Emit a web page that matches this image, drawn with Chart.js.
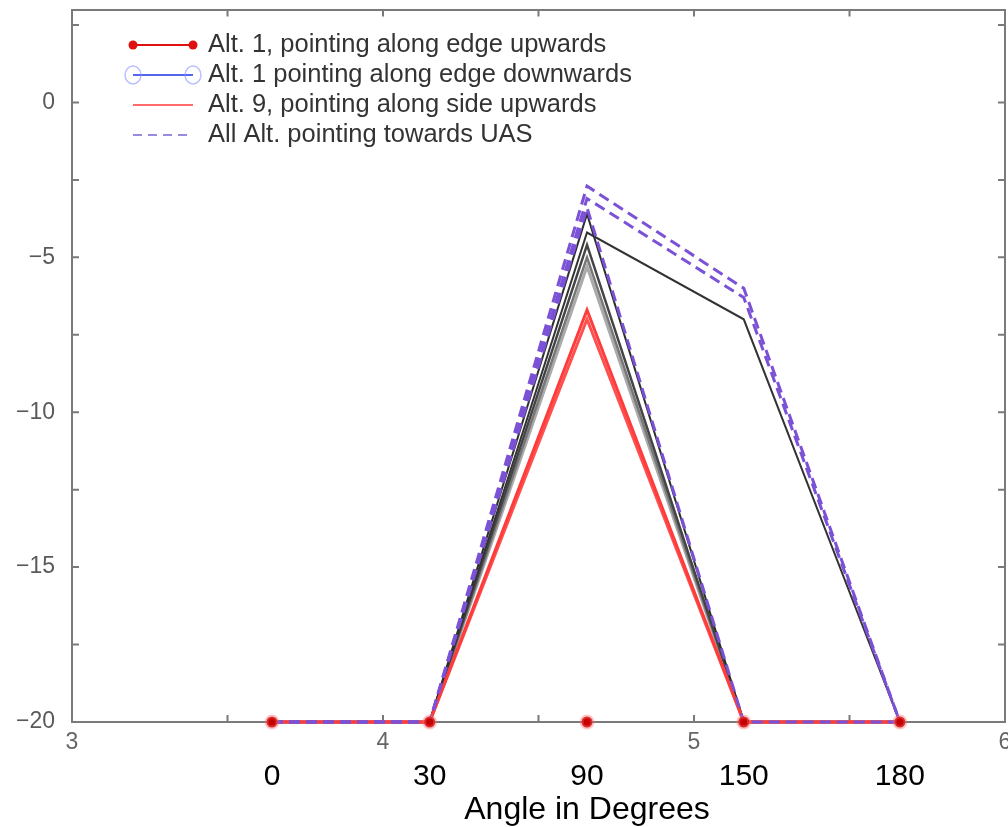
<!DOCTYPE html>
<html>
<head>
<meta charset="utf-8">
<script src="https://cdn.jsdelivr.net/npm/chart.js@4.4.1/dist/chart.umd.min.js"></script>
<style>
  html, body { margin: 0; padding: 0; background: #fff; overflow: hidden; }
  #wrap { position: relative; width: 1016px; height: 827px; }
</style>
</head>
<body>
<div id="wrap"><canvas id="chart"></canvas></div>
<script>
// positions of the five measured angles on the underlying 3..6 axis
const xPos = [3.643, 4.15, 4.656, 5.16, 5.662];
const angleLabels = ["0", "30", "90", "150", "180"];
const xTicks = [3, 3.5, 4, 4.5, 5, 5.5, 6];
const yTicks = [-20, -17.5, -15, -12.5, -10, -7.5, -5, -2.5, 0, 2.5];

// series values (dB) per angle
const alt1Up = [-20, -20, -20, -20, -20];
const alt1Down = [-20, -20, -20, -20, -20];
const alt9Side = [-20, -20, -6.7, -20, -20];
const alt9SideB = [-20, -20, -7.0, -20, -20];
const towardsUasA = [-20, -20, -2.7, -6.0, -20];
const towardsUasB = [-20, -20, -3.1, -6.3, -20];
const towardsUasC = [-20, -20, -3.4, -20, -20];
const otherAltA = [-20, -20, -3.6, -20, -20];
const otherAltB = [-20, -20, -4.2, -7.0, -20];
const otherAltC = [-20, -20, -4.6, -20, -20];
const otherAltD = [-20, -20, -5.0, -20, -20];
const otherAltE = [-20, -20, -5.3, -20, -20];

const FONT = "'Liberation Sans', Arial, sans-serif";
const AXIS_GREY = "#7a7a7a";
const PURPLE = "#7b52d6";

const pts = ys => ys.map((y, i) => ({ x: xPos[i], y }));

function lineSet(label, ys, color, width, dash) {
  return {
    label, data: pts(ys), borderColor: color, borderWidth: width,
    borderDash: dash || [], pointRadius: 0, tension: 0, clip: false
  };
}

const datasets = [
  {
    label: "Alt. 1, pointing along edge upwards", data: pts(alt1Up),
    showLine: false, pointRadius: 5.5, pointBackgroundColor: "#c40000",
    pointBorderColor: "rgba(255,110,110,0.4)", pointBorderWidth: 4, clip: false,
    legendStyle: { rank: 0, color: "#e01010", width: 2, marker: "dot" }
  },
  {
    label: "Alt. 1 pointing along edge downwards", data: pts(alt1Down),
    showLine: false, pointRadius: 0, clip: false,
    legendStyle: { rank: 1, color: "#5566ee", width: 2, marker: "ring", ring: "rgba(130,140,255,0.55)" }
  },
  Object.assign(lineSet("All Alt. pointing towards UAS", towardsUasA, PURPLE, 3, [11, 6]),
    { legendStyle: { rank: 3, color: "#9b8ae0", width: 2, dash: [9, 6] } }),
  lineSet("towards UAS b", towardsUasB, PURPLE, 3, [11, 6]),
  lineSet("towards UAS c", towardsUasC, PURPLE, 3, [11, 6]),
  Object.assign(lineSet("Alt. 9, pointing along side upwards", alt9Side, "#ff3c3c", 3),
    { legendStyle: { rank: 2, color: "#ff6a6a", width: 2 } }),
  lineSet("side b", alt9SideB, "#ff5050", 3),
  lineSet("other a", otherAltA, "#2e2e2e", 2),
  lineSet("other b", otherAltB, "#333333", 2),
  lineSet("other c", otherAltC, "#444444", 2.5),
  lineSet("other d", otherAltD, "#777777", 2.5),
  lineSet("other e", otherAltE, "#aaaaaa", 3)
];

const innerTicks = {
  id: "innerTicks",
  beforeDatasetsDraw(chart, args, opts) {
    const { ctx, chartArea: a, scales } = chart;
    ctx.save();
    ctx.strokeStyle = opts.color;
    ctx.lineWidth = opts.width;
    ctx.beginPath();
    scales.x.ticks.forEach(t => {
      const px = scales.x.getPixelForValue(t.value);
      ctx.moveTo(px, a.bottom); ctx.lineTo(px, a.bottom - opts.length);
      ctx.moveTo(px, a.top); ctx.lineTo(px, a.top + opts.length);
    });
    scales.y.ticks.forEach(t => {
      const py = scales.y.getPixelForValue(t.value);
      ctx.moveTo(a.left, py); ctx.lineTo(a.left + opts.length, py);
      ctx.moveTo(a.right, py); ctx.lineTo(a.right - opts.length, py);
    });
    ctx.stroke();
    ctx.restore();
  }
};

const cornerLegend = {
  id: "cornerLegend",
  afterDraw(chart, args, opts) {
    const ctx = chart.ctx;
    const items = chart.data.datasets.filter(d => d.legendStyle)
      .sort((a, b) => a.legendStyle.rank - b.legendStyle.rank);
    ctx.save();
    ctx.font = opts.font;
    ctx.textBaseline = "middle";
    items.forEach((d, i) => {
      const s = d.legendStyle;
      const y = opts.top + i * opts.rowGap;
      const x0 = opts.left, x1 = opts.left + opts.sampleWidth;
      ctx.strokeStyle = s.color;
      ctx.lineWidth = s.width;
      ctx.setLineDash(s.dash || []);
      ctx.beginPath(); ctx.moveTo(x0, y); ctx.lineTo(x1, y); ctx.stroke();
      ctx.setLineDash([]);
      if (s.marker === "dot") {
        ctx.fillStyle = s.color;
        [x0, x1].forEach(x => { ctx.beginPath(); ctx.arc(x, y, 4.5, 0, Math.PI * 2); ctx.fill(); });
      } else if (s.marker === "ring") {
        ctx.strokeStyle = s.ring;
        ctx.lineWidth = 1.5;
        [x0, x1].forEach(x => { ctx.beginPath(); ctx.ellipse(x, y, 8, 9, 0, 0, Math.PI * 2); ctx.stroke(); });
      }
      ctx.fillStyle = opts.color;
      ctx.fillText(d.label, x1 + opts.textGap, y);
    });
    ctx.restore();
  }
};

const bottomTitle = {
  id: "bottomTitle",
  afterDraw(chart, args, opts) {
    const s = chart.scales.x2;
    const ctx = chart.ctx;
    ctx.save();
    ctx.font = opts.font;
    ctx.fillStyle = opts.color;
    ctx.textAlign = "center";
    ctx.textBaseline = "middle";
    ctx.fillText(opts.text, s.getPixelForValue(xPos[2]), s.bottom + opts.offset);
    ctx.restore();
  }
};

Chart.defaults.font.family = FONT;

const noGrid = { display: false, drawTicks: false };

new Chart(document.getElementById("chart"), {
  type: "line",
  data: { datasets },
  options: {
    responsive: true,
    maintainAspectRatio: false,
    animation: false,
    layout: { padding: { left: 0, top: 9, right: 11, bottom: 37 } },
    plugins: {
      legend: { display: false },
      tooltip: { enabled: false },
      innerTicks: { color: AXIS_GREY, width: 2, length: 7 },
      cornerLegend: { left: 133, top: 45, rowGap: 30, sampleWidth: 60, textGap: 15,
        font: "25.5px " + FONT, color: "#333" },
      bottomTitle: { text: "Angle in Degrees", font: "32px " + FONT, color: "#000", offset: 20 }
    },
    scales: {
      x: {
        type: "linear", position: "bottom", min: 3, max: 6, weight: 0,
        afterBuildTicks: s => { s.ticks = xTicks.map(v => ({ value: v })); },
        afterFit: s => { s.paddingLeft = 0; s.paddingRight = 0; },
        ticks: {
          callback: v => Number.isInteger(v) ? String(v) : "",
          color: "#666", font: { size: 23, lineHeight: 1.826 }, padding: 0, maxRotation: 0, autoSkip: false
        },
        grid: noGrid,
        border: { color: AXIS_GREY, width: 2 }
      },
      x2: {
        type: "linear", position: "bottom", min: 3, max: 6, weight: 1,
        afterBuildTicks: s => { s.ticks = xPos.map(v => ({ value: v })); },
        afterFit: s => { s.paddingLeft = 0; s.paddingRight = 0; },
        ticks: {
          callback: (v, i) => angleLabels[i],
          color: "#000", font: { size: 30, lineHeight: 0.867 }, padding: 0, maxRotation: 0, autoSkip: false
        },
        grid: noGrid,
        border: { display: false }
      },
      xTop: {
        type: "linear", position: "top", min: 3, max: 6,
        ticks: { display: false }, grid: noGrid,
        border: { color: AXIS_GREY, width: 2 }
      },
      y: {
        type: "linear", position: "left", min: -20, max: 3,
        afterBuildTicks: s => { s.ticks = yTicks.map(v => ({ value: v })); },
        afterFit: s => { s.width = 72; s.paddingTop = 0; s.paddingBottom = 0; },
        ticks: {
          callback: v => v % 5 === 0 ? (v < 0 ? "\u2212" + Math.abs(v) : String(v)) : "",
          color: "#5a5a5a", font: { size: 23 }, padding: 17
        },
        grid: noGrid,
        border: { color: AXIS_GREY, width: 2 }
      },
      yRight: {
        type: "linear", position: "right", min: -20, max: 3,
        ticks: { display: false }, grid: noGrid,
        border: { color: AXIS_GREY, width: 2 }
      }
    }
  },
  plugins: [innerTicks, cornerLegend, bottomTitle]
});
</script>
</body>
</html>
